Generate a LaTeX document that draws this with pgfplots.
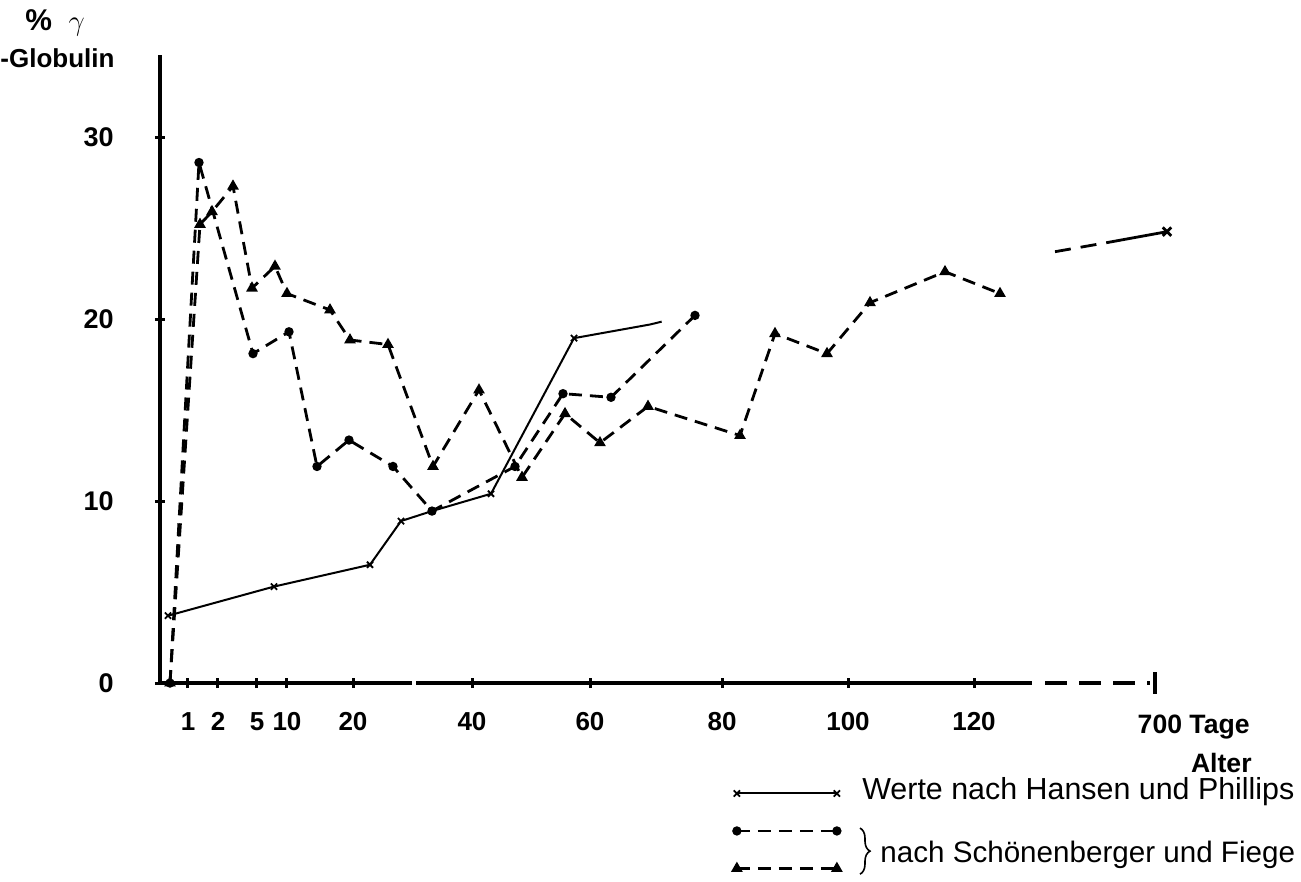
\documentclass[border=0pt]{standalone}
\usepackage{fontspec}
\setmainfont{Liberation Sans}
\usepackage{pgfplots}
\pgfplotsset{compat=1.18}
\usetikzlibrary{decorations.pathreplacing}
\begin{document}
\begin{tikzpicture}
\begin{axis}[
  scale only axis, width=497.5pt, height=313.95pt,
  xmin=160, xmax=1155, ymin=0, ymax=34.5,
  clip=false,
  axis x line=bottom, axis y line=left,
  x axis line style={draw=none},
  y axis line style={line width=2pt, -},
  xtick={188,218,257,287,353,472,590,722,848,974},
  xticklabels={1,2,5,10,20,40,60,80,100,120},
  ytick={0,10,20,30},
  major tick length=5pt, tick align=center,
  tick style={line width=1.5pt, black},
  /pgf/number format/assume math mode=true,
  ticklabel style={font=\bfseries\fontsize{13}{15}\selectfont},
  yticklabel style={inner sep=0pt, xshift=-20.5pt, font=\bfseries\fontsize{13.5}{15}\selectfont},
  xticklabel style={inner sep=0pt, yshift=-12pt},
  legend style={at={(0.5759,-0.1545)}, anchor=north west, draw=none, fill=none,
    inner sep=0pt, row sep=5.75pt, font=\fontsize{15.2}{17}\selectfont,
    nodes={inner sep=0pt, text height=9.5pt, text depth=3.5pt},
    /tikz/every odd column/.append style={column sep=11pt}},
  legend cell align=left,
  legend image code/.code={\draw[#1] plot coordinates {(0pt,0pt) (50pt,0pt)};},
]
% x axis (broken)
\draw[line width=2pt] (axis cs:160,0) -- (axis cs:412,0);
\draw[line width=2pt] (axis cs:416,0) -- (axis cs:1032,0);
\draw[line width=2pt, dash pattern=on 11pt off 6pt] (axis cs:1045,0) -- (axis cs:1150,0);
\draw[line width=2pt] (axis cs:1155,-0.6) -- (axis cs:1155,0.6);

% Hansen und Phillips
\addplot[line width=1pt, mark=x, mark size=2.2pt, mark options={solid, line width=0.9pt}]
  coordinates {(168,3.7) (274,5.3) (370,6.5) (401,8.9) (432,9.45) (491,10.4) (574,18.95)};
\addlegendentry{Werte nach Hansen und Phillips}
% Schoenenberger und Fiege (dots)
\addplot[line width=1.4pt, dash pattern=on 6.5pt off 4pt, mark=*, mark size=1.6pt, mark options={solid}]
  coordinates {(170,0) (199,28.6) (253,18.1) (289,19.3) (317,11.9) (349,13.35) (393,11.9)
               (432,9.45) (515,11.9) (563,15.9) (611,15.7) (695,20.2)};
\addlegendentry{}
% Schoenenberger und Fiege (triangles)
\addplot[line width=1.4pt, dash pattern=on 6.5pt off 4pt, mark=triangle*, mark size=2pt, mark options={solid}]
  coordinates {(170,0) (200,25.2) (212,25.9) (233,27.3) (252,21.7) (275,22.9) (287,21.4)
               (330,20.5) (350,18.85) (388,18.6) (433,11.9) (479,16.1) (522,11.3) (565,14.8)
               (600,13.2) (648,15.2) (740,13.6) (775,19.2) (827,18.1) (870,20.9) (945,22.6) (1000,21.4)};
\addlegendentry{}
% continuation pieces of Hansen und Phillips
\addplot[forget plot, line width=1pt] coordinates {(574,18.95) (650,19.7)};
\addplot[forget plot, line width=1pt, dash pattern=on 6pt off 4pt] coordinates {(650,19.7) (665,19.9)};
\addplot[forget plot, line width=1.4pt, dash pattern=on 8pt off 5pt] coordinates {(1055,23.7) (1107,24.2)};
\addplot[forget plot, line width=1.4pt, mark=x, mark size=3pt, mark options={solid, line width=1.4pt}, mark indices={2}]
  coordinates {(1107,24.2) (1167,24.8)};

% labels
\node[anchor=west, inner sep=0pt, font=\bfseries\fontsize{15}{17}\selectfont] at (axis cs:25,36.3) {\% \ $\gamma$};
\node[anchor=west, inner sep=0pt, font=\bfseries\fontsize{13}{15}\selectfont] at (axis cs:0,34.34) {-Globulin};
\node[anchor=base east, inner sep=0pt, font=\bfseries\fontsize{13.3}{15}\selectfont] at (axis cs:1250,-2.75) {700 Tage};
\node[anchor=base east, inner sep=0pt, font=\bfseries\fontsize{13.3}{15}\selectfont] at (axis cs:1252,-4.89) {Alter};
\draw[line width=0.8pt, decorate, decoration={brace, amplitude=5pt}] (axis cs:860,-7.97) -- (axis cs:860,-10.5);
\node[anchor=west, inner sep=0pt, font=\fontsize{14.8}{17}\selectfont] at (axis cs:880,-9.45) {nach Schönenberger und Fiege};
% page frame
\path (axis cs:0,-10.66) rectangle (axis cs:1301,37.53);
\end{axis}
\end{tikzpicture}
\end{document}
